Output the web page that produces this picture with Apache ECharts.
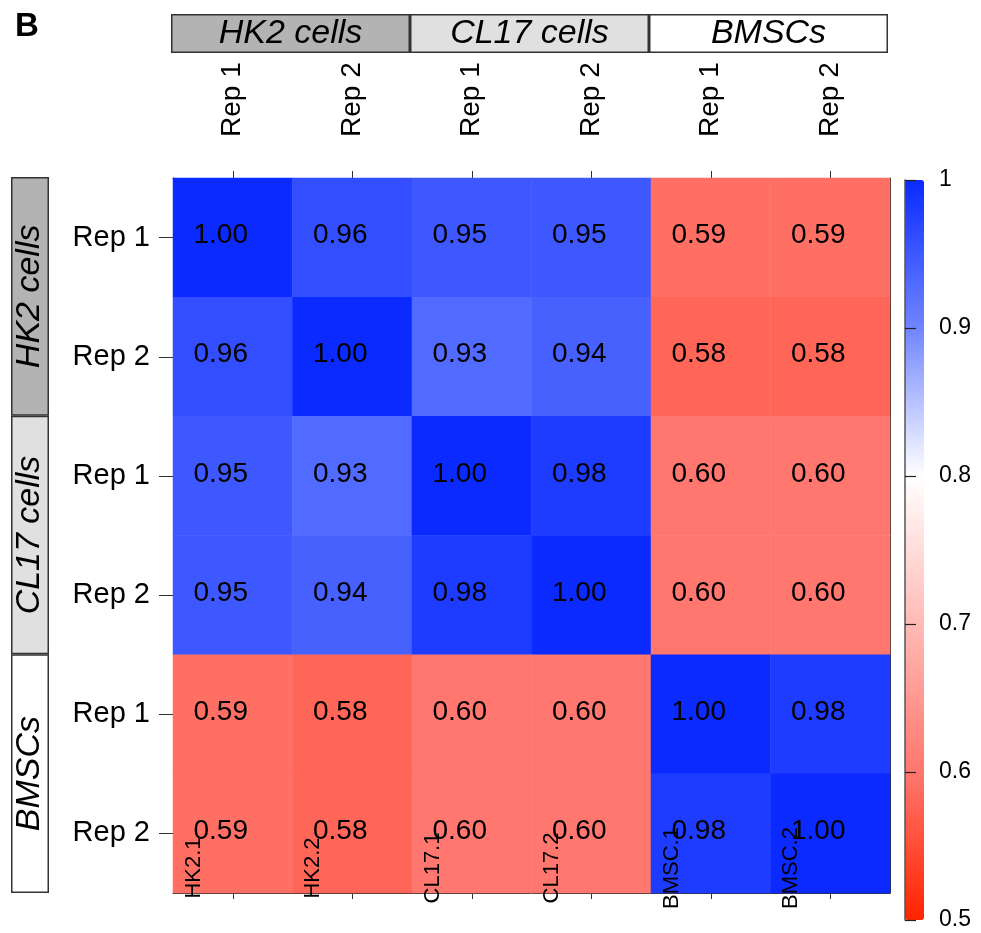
<!DOCTYPE html>
<html>
<head>
<meta charset="utf-8">
<script src="https://cdn.jsdelivr.net/npm/echarts@6/dist/echarts.min.js"></script>
<style>
html, body { margin: 0; padding: 0; background: #fff; }
#chart { width: 981px; height: 933px; }
</style>
</head>
<body>
<div id="chart"></div>
<script>
// samples in plot order (top->bottom, left->right)
var samples = ['HK2.1', 'HK2.2', 'CL17.1', 'CL17.2', 'BMSC.1', 'BMSC.2'];
var reps = ['Rep 1', 'Rep 2', 'Rep 1', 'Rep 2', 'Rep 1', 'Rep 2'];
var groups = ['HK2 cells', 'CL17 cells', 'BMSCs'];
var groupColors = ['#b3b3b3', '#e0e0e0', '#ffffff'];
// correlation matrix, rows = y (top to bottom), cols = x
var corr = [
    [1.00, 0.96, 0.95, 0.95, 0.59, 0.59],
    [0.96, 1.00, 0.93, 0.94, 0.58, 0.58],
    [0.95, 0.93, 1.00, 0.98, 0.60, 0.60],
    [0.95, 0.94, 0.98, 1.00, 0.60, 0.60],
    [0.59, 0.58, 0.60, 0.60, 1.00, 0.98],
    [0.59, 0.58, 0.60, 0.60, 0.98, 1.00]
];
var scaleMin = 0.5, scaleMax = 1, scaleStep = 0.1;
var scaleColors = ['#ff2400', '#ff776e', '#ffbab5', '#ffffff', '#7085ff', '#0a2aff'];

var font = 'Liberation Sans, Arial, Helvetica, sans-serif';
var heatData = [];
for (var r = 0; r < corr.length; r++) {
    for (var c = 0; c < corr[r].length; c++) {
        heatData.push([c, r, corr[r][c]]);
    }
}
var lineStyle = { color: '#333', width: 1 };

var option = {
    animation: false,
    textStyle: { fontFamily: font },
    title: {
        text: 'B', left: 10, top: 5,
        textStyle: { fontSize: 33, fontWeight: 'bold', color: '#000', fontFamily: font }
    },
    grid: [
        { left: 173, top: 178, width: 717, height: 715 },       // heatmap
        { left: 134, top: 178, width: 717, height: 715 },       // shifted bottom names
        { left: 171, top: 14, width: 717, height: 39 },         // top group bar
        { left: 11, top: 177, width: 38, height: 716 },         // left group bar
        { left: 905, top: 180, width: 19, height: 740 }         // colour scale axis
    ],
    xAxis: [
        {
            type: 'category', gridIndex: 0, position: 'top', data: samples,
            axisLine: { show: true, lineStyle: lineStyle },
            axisTick: { show: true, alignWithLabel: true, length: 7, lineStyle: lineStyle },
            axisLabel: {
                interval: 0, rotate: -90, margin: 41, fontSize: 28, color: '#000',
                formatter: function (v, i) { return reps[i]; }
            }
        },
        {
            type: 'category', gridIndex: 0, position: 'bottom', data: samples,
            axisLine: { show: true, lineStyle: lineStyle },
            axisTick: { show: true, alignWithLabel: true, length: 6, lineStyle: lineStyle },
            axisLabel: { show: false }
        },
        {
            type: 'category', gridIndex: 1, position: 'bottom', data: samples, z: 10,
            axisLine: { show: false }, axisTick: { show: false },
            axisLabel: {
                interval: 0, rotate: 90, margin: -25, align: 'center', verticalAlign: 'middle',
                fontSize: 22, color: '#000'
            }
        },
        { type: 'category', gridIndex: 2, data: groups, show: false },
        { type: 'value', gridIndex: 3, min: 0, max: 1, show: false },
        { type: 'value', gridIndex: 4, min: 0, max: 1, show: false }
    ],
    yAxis: [
        {
            type: 'category', gridIndex: 0, position: 'left', inverse: true, data: samples,
            axisLine: { show: true, lineStyle: lineStyle },
            axisTick: { show: true, alignWithLabel: true, length: 14, lineStyle: lineStyle },
            axisLabel: {
                interval: 0, margin: 23, fontSize: 29, color: '#000',
                formatter: function (v, i) { return reps[i]; }
            }
        },
        {
            type: 'category', gridIndex: 0, position: 'right', inverse: true, data: samples,
            axisLine: { show: true, lineStyle: lineStyle },
            axisTick: { show: false }, axisLabel: { show: false }
        },
        { type: 'category', gridIndex: 1, data: samples, show: false },
        { type: 'value', gridIndex: 2, min: 0, max: 1, show: false },
        { type: 'category', gridIndex: 3, data: groups, inverse: true, show: false },
        {
            type: 'value', gridIndex: 4, position: 'right', z: 10,
            min: scaleMin, max: scaleMax, interval: scaleStep,
            splitLine: { show: false },
            axisLine: { show: true, lineStyle: { color: '#555', width: 1.5 } },
            axisTick: { show: true, inside: false, length: 11, lineStyle: { color: '#222', width: 1.2 } },
            axisLabel: { margin: 15, fontSize: 23, color: '#000' }
        }
    ],
    visualMap: {
        type: 'continuous', seriesIndex: 0,
        min: scaleMin, max: scaleMax,
        left: 905, top: 180, itemWidth: 19, itemHeight: 740,
        padding: 0, calculable: false, text: null, showLabel: false,
        inRange: { color: scaleColors }
    },
    series: [
        {
            type: 'heatmap', xAxisIndex: 0, yAxisIndex: 0, data: heatData, silent: true,
            label: {
                show: true, fontSize: 28, color: '#000', offset: [-12, -2],
                formatter: function (p) { return p.value[2].toFixed(2); }
            }
        },
        {
            type: 'bar', xAxisIndex: 3, yAxisIndex: 3, silent: true,
            barWidth: '100%', barCategoryGap: 0,
            data: groups.map(function (g, i) {
                return { value: 1, itemStyle: { color: groupColors[i] } };
            }),
            itemStyle: { borderColor: '#333', borderWidth: 1.5 },
            label: {
                show: true, position: 'inside', color: '#000', fontSize: 34, fontStyle: 'italic',
                formatter: function (p) { return groups[p.dataIndex]; }
            }
        },
        {
            type: 'bar', xAxisIndex: 4, yAxisIndex: 4, silent: true,
            barWidth: '100%', barCategoryGap: 0,
            data: groups.map(function (g, i) {
                return { value: 1, itemStyle: { color: groupColors[i] } };
            }),
            itemStyle: { borderColor: '#333', borderWidth: 1.5 },
            label: {
                show: true, position: 'inside', rotate: 90, color: '#000', fontSize: 34, fontStyle: 'italic',
                formatter: function (p) { return groups[p.dataIndex]; }
            }
        }
    ]
};

var chart = echarts.init(document.getElementById('chart'));
chart.setOption(option);
</script>
</body>
</html>
